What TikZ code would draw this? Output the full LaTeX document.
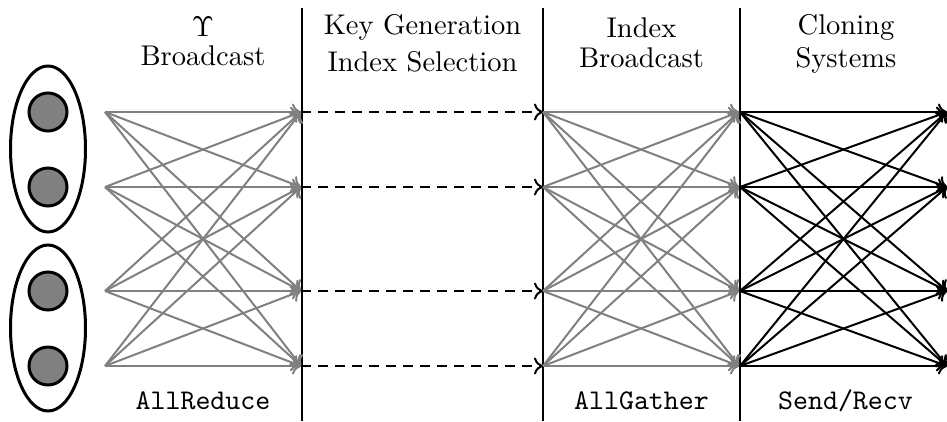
\documentclass[tikz,border=0pt]{standalone}
\usetikzlibrary{arrows.meta,shapes.geometric}
\begin{document}
\begin{tikzpicture}[x=1pt,y=-1pt,
  lbl/.style={anchor=base, inner sep=0pt, font=\fontsize{10}{12}\selectfont, scale=2.85, transform shape},
  mono/.style={anchor=base, inner sep=0pt, font=\fontsize{10}{12}\selectfont\ttfamily, scale=2.85, transform shape},
  sep/.style={line width=2.5pt},
  tip/.style={-{To[length=9pt,width=17pt]}},
  grayarr/.style={draw=gray, line width=2pt, tip},
  blackarr/.style={draw=black, line width=2pt, tip},
  dasharr/.style={draw=black, line width=2pt, dash pattern=on 10pt off 7pt, tip},
  proc/.style={circle, draw=black, fill=gray, line width=3pt, minimum size=38pt, inner sep=0pt},
  group/.style={ellipse, draw=black, line width=3pt, minimum width=75pt, minimum height=166pt, inner sep=0pt}]
\useasboundingbox (0,0) rectangle (947,421);

% groups and processes
\node[group] (g1) at (48,149) {};
\node[group] (g2) at (48,328) {};
\node[proc] (p1) at (48,112) {};
\node[proc] (p2) at (48,187) {};
\node[proc] (p3) at (48,291) {};
\node[proc] (p4) at (48,366) {};

% separators
\coordinate (s1t) at (302,8);  \coordinate (s1b) at (302,421);
\coordinate (s2t) at (543,8);  \coordinate (s2b) at (543,421);
\coordinate (s3t) at (740,8);  \coordinate (s3b) at (740,421);
\draw[sep] (s1t) -- (s1b);
\draw[sep] (s2t) -- (s2b);
\draw[sep] (s3t) -- (s3b);

% connection points
\foreach \i/\y in {1/112,2/187,3/291,4/366}{
  \coordinate (a\i) at (105,\y);
  \coordinate (b\i) at (301,\y);
  \coordinate (c\i) at (543,\y);
  \coordinate (d\i) at (740,\y);
  \coordinate (e\i) at (947,\y);
}

% AllReduce
\foreach \i in {1,...,4}{\foreach \j in {1,...,4}{\draw[grayarr] (a\i) -- (b\j);}}
% dashed
\foreach \i in {1,...,4}{\draw[dasharr] (b\i) -- (c\i);}
% AllGather
\foreach \i in {1,...,4}{\foreach \j in {1,...,4}{\draw[grayarr] (c\i) -- ([xshift=-1pt]d\j);}}
% Send/Recv
\foreach \i in {1,...,4}{\foreach \j in {1,...,4}{\draw[blackarr] (d\i) -- (e\j);}}

% titles
\node[lbl] (t1a) at (203,36) {$\Upsilon$};
\node[lbl] (t1b) at (203,65) {Broadcast};
\node[lbl] (t2a) at (422.5,34) {Key Generation};
\node[lbl] (t2b) at (422.5,71) {Index Selection};
\node[lbl] (t3a) at (641.5,37) {Index};
\node[lbl] (t3b) at (641.5,67) {Broadcast};
\node[lbl] (t4a) at (846,34) {Cloning};
\node[lbl] (t4b) at (846,67) {Systems};

% bottom labels
\node[mono] (m1) at (203,409) {AllReduce};
\node[mono] (m2) at (641.5,409) {AllGather};
\node[mono] (m3) at (845.5,409) {Send/Recv};
\end{tikzpicture}
\end{document}
